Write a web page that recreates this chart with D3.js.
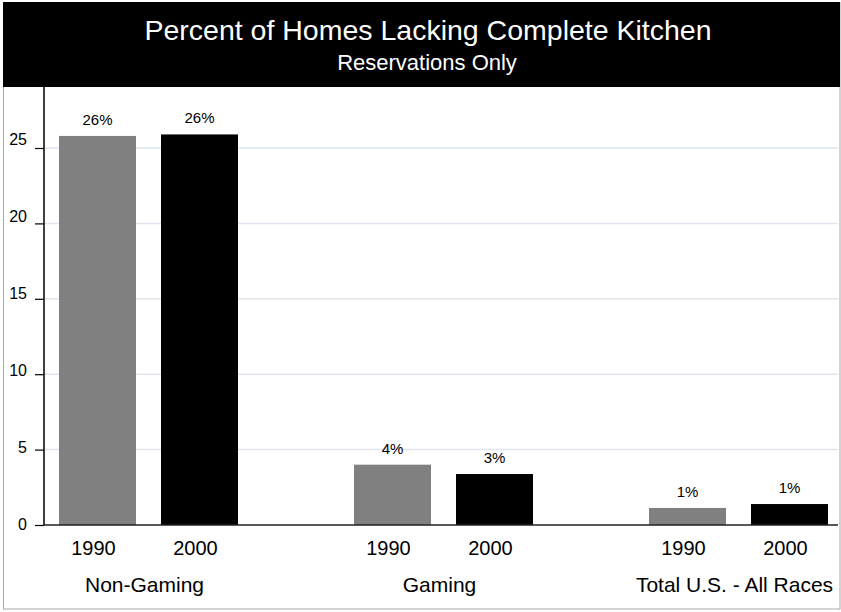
<!DOCTYPE html>
<html><head><meta charset="utf-8">
<script src="https://cdn.jsdelivr.net/npm/d3@7"></script>
<style>body{margin:0;background:#fff}svg{display:block;font-family:"Liberation Sans",Arial,sans-serif}</style>
</head><body>
<svg id="c" width="841" height="612"></svg>
<script>
const groups = ["Non-Gaming", "Gaming", "Total U.S. - All Races"];
const years = ["1990", "2000"];
const values1990 = [25.8, 4.0, 1.13];
const values2000 = [25.9, 3.38, 1.39];
const labels1990 = ["26%", "4%", "1%"];
const labels2000 = ["26%", "3%", "1%"];
const yTicks = [0, 5, 10, 15, 20, 25];
const colors = ["#808080", "#000000"];

const svg = d3.select("#c");
const axisX = 44, plotRight = 838, y0 = 525;

// frame
svg.append("rect").attr("x", 3.5).attr("y", 2.5).attr("width", 836.5).attr("height", 606.5)
  .attr("fill", "#fff").attr("stroke", "#a8a8a8");
svg.append("rect").attr("x", 3).attr("y", 2).attr("width", 837).attr("height", 85).attr("fill", "#000");
svg.append("text").attr("x", 428).attr("y", 40).attr("text-anchor", "middle")
  .attr("fill", "#fff").attr("font-size", 28.5).text("Percent of Homes Lacking Complete Kitchen");
svg.append("text").attr("x", 427).attr("y", 70).attr("text-anchor", "middle")
  .attr("fill", "#fff").attr("font-size", 22).text("Reservations Only");

const y = d3.scaleLinear().domain([0, 25]).range([y0, 148]);
const yLab = d3.scaleLinear().domain([0, 25]).range([524.5, 139]);
const x0 = d3.scaleBand().domain(groups).range([1, 886]).padding(0);
const x1 = d3.scaleBand().domain(years).range([0, 179]).paddingInner(0.245).paddingOuter(0);

// gridlines
svg.append("g").selectAll("line").data(yTicks.filter(d => d > 0)).join("line")
  .attr("x1", axisX).attr("x2", plotRight).attr("y1", d => y(d)).attr("y2", d => y(d))
  .attr("stroke", "#dfe4ef").attr("stroke-width", 1.5);

// y axis
const yAxis = d3.axisLeft(y).tickValues(yTicks).tickSize(9).tickPadding(8);
const gy = svg.append("g").attr("transform", `translate(${axisX},0)`).call(yAxis);
gy.select(".domain").remove();
gy.selectAll(".tick line").attr("stroke", "#000").attr("stroke-width", 1.2);
gy.selectAll(".tick text").attr("font-size", 16).attr("fill", "#000")
  .attr("font-family", "Liberation Sans, Arial, sans-serif")
  .attr("y", d => yLab(d) - y(d));
svg.append("line").attr("x1", axisX).attr("x2", axisX).attr("y1", 87).attr("y2", y0).attr("stroke", "#000").attr("stroke-width", 1.5);

const data = [];
groups.forEach((g, i) => {
  data.push({g, yr: years[0], v: values1990[i], lab: labels1990[i], c: colors[0]});
  data.push({g, yr: years[1], v: values2000[i], lab: labels2000[i], c: colors[1]});
});
const cx = d => x0(d.g) + (x0.bandwidth() - 179) / 2 + x1(d.yr);

svg.append("g").selectAll("rect").data(data).join("rect")
  .attr("x", cx).attr("width", x1.bandwidth())
  .attr("y", d => y(d.v)).attr("height", d => y0 - y(d.v)).attr("fill", d => d.c);

svg.append("g").selectAll("text").data(data).join("text")
  .attr("x", d => cx(d) + x1.bandwidth() / 2).attr("y", d => y(d.v) - 11)
  .attr("text-anchor", "middle").attr("font-size", 15).text(d => d.lab);

// baseline
svg.append("line").attr("x1", axisX).attr("x2", plotRight).attr("y1", y0).attr("y2", y0).attr("stroke", "#222").attr("stroke-width", 1.5);

// year labels
svg.append("g").selectAll("text").data(data).join("text")
  .attr("x", d => cx(d) + x1.bandwidth() / 2 - 4).attr("y", 555)
  .attr("text-anchor", "middle").attr("font-size", 20).text(d => d.yr);

// group labels
svg.append("g").selectAll("text").data(groups).join("text")
  .attr("x", d => x0(d) + x0.bandwidth() / 2 - 4).attr("y", 592)
  .attr("text-anchor", "middle").attr("font-size", 21).text(d => d);
</script>
</body></html>
